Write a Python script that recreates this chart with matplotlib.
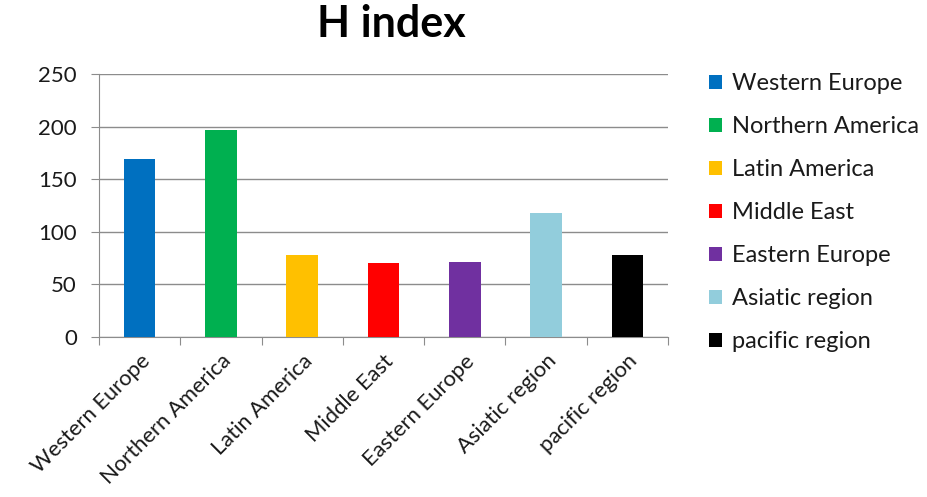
import matplotlib
matplotlib.use('Agg')
from matplotlib import pyplot as plt
from matplotlib.patches import Patch

regions = ['Western Europe', 'Northern America', 'Latin America', 'Middle East',
           'Eastern Europe', 'Asiatic region', 'pacific region']
h_index = [169, 197, 78, 70, 71, 118, 78]
colors = ['#0070c0', '#00b050', '#ffc000', '#ff0000', '#7030a0', '#92cddc', '#000000']

plt.rcParams['font.family'] = ['Lato', 'DejaVu Sans']

fig = plt.figure(figsize=(9.28, 4.97), dpi=100)
ax = fig.add_axes([99 / 928, 1 - 337 / 497, (668 - 99) / 928, (337 - 74) / 497])

x = range(len(regions))
ax.bar(x, h_index, width=0.39, color=colors, zorder=3)

ax.set_xlim(-0.5, len(regions) - 0.5)
ax.set_ylim(0, 250)
ax.set_yticks([0, 50, 100, 150, 200, 250])
ax.grid(axis='y', color='#8c8c8c', linewidth=1, zorder=0)

# category boundary ticks on the x axis
ax.set_xticks([i - 0.5 for i in range(len(regions) + 1)])
ax.set_xticklabels([])
ax.set_xticks(list(x), minor=True)
ax.set_xticklabels(regions, minor=True, rotation=45, ha='right',
                   rotation_mode='anchor', fontsize=15.8, color='#1a1a1a')
ax.tick_params(axis='x', which='minor', length=0, pad=10)
ax.tick_params(axis='x', which='major', length=6, color='#8c8c8c')
ax.tick_params(axis='y', length=6, color='#8c8c8c', labelsize=16,
               labelcolor='#1a1a1a', pad=10)

for side in ['top', 'right']:
    ax.spines[side].set_visible(False)
for side in ['left', 'bottom']:
    ax.spines[side].set_color('#8c8c8c')

fig.text(391 / 928, 1 - 24 / 497, 'H index', ha='center', va='center',
         fontsize=31, fontweight='bold')

handles = [Patch(facecolor=c, label=r) for c, r in zip(colors, regions)]
fig.legend(handles=handles, loc='upper left', bbox_to_anchor=(688 / 928, 1 - 52 / 497),
           frameon=False, fontsize=17, handlelength=0.55, handleheight=0.55,
           handletextpad=0.4, labelspacing=0.93, labelcolor='#1a1a1a')

fig.savefig('out.png', dpi=100)
